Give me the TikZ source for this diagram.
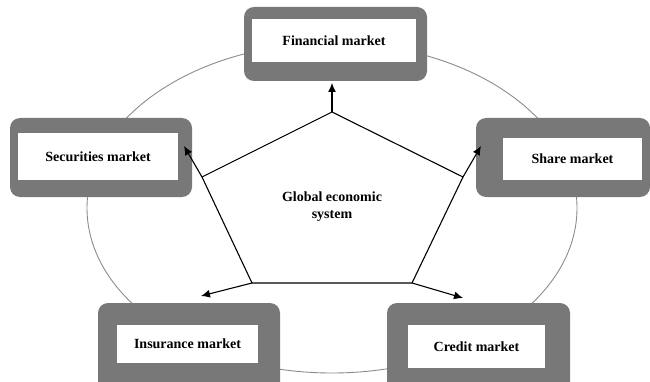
\documentclass[tikz,border=0pt]{standalone}
\usepackage{fontspec}
\setmainfont{Liberation Serif}
\usetikzlibrary{arrows.meta}
\definecolor{boxgray}{HTML}{787878}
\definecolor{arcgray}{HTML}{8C8C8C}
\tikzset{
  outerbox/.style={draw=none, fill=boxgray, rounded corners=10pt, inner sep=0pt},
  innerbox/.style={draw=none, fill=white, inner sep=0pt, font=\fontsize{14}{17}\selectfont\bfseries, align=center},
  conn/.style={draw=black, line width=1.1pt, line join=miter},
  arr/.style={conn, -{Latex[length=9pt,width=8pt]}},
  orbit/.style={draw=arcgray, line width=0.9pt},
  centerlabel/.style={font=\fontsize{14}{17}\selectfont\bfseries, align=center, inner sep=0pt}
}
\begin{document}
\begin{tikzpicture}[x=1pt,y=-1pt]
\useasboundingbox (0,0) rectangle (650,382);
% large orbit behind the boxes
\draw[orbit] (332,208) ellipse [x radius=245, y radius=165];
% outer gray frames
\node[outerbox, minimum width=183pt, minimum height=74pt] (finO) at (335.5,44) {};
\node[outerbox, minimum width=182pt, minimum height=79pt] (secO) at (101,157.5) {};
\node[outerbox, minimum width=174pt, minimum height=79pt] (shaO) at (563,157.5) {};
\node[outerbox, minimum width=182pt, minimum height=92pt] (insO) at (189,349) {};
\node[outerbox, minimum width=183pt, minimum height=92pt] (creO) at (478.5,349) {};
% inner white labels
\node[innerbox, minimum width=164pt, minimum height=43pt] (fin) at (334,40.5) {Financial market};
\node[innerbox, minimum width=160pt, minimum height=47pt] (sec) at (98,156.5) {Securities market};
\node[innerbox, minimum width=139pt, minimum height=42pt] (sha) at (572.5,159) {Share market};
\node[innerbox, minimum width=141pt, minimum height=38pt] (ins) at (187.5,344) {Insurance market};
\node[innerbox, minimum width=137pt, minimum height=43pt] (cre) at (476.5,346.5) {Credit market};
% pentagon vertices
\coordinate (pT) at (332,112);
\coordinate (pL) at (202,177);
\coordinate (pR) at (463,177);
\coordinate (pBL) at (252,283);
\coordinate (pBR) at (412,283);
% arrow ends
\coordinate (eT) at (332,83);
\coordinate (eL) at (184,146);
\coordinate (eR) at (481,146);
\coordinate (eBL) at (201,296);
\coordinate (eBR) at (463,298);
% pentagon
\draw[conn] (pT) -- (pR) -- (pBR) -- (pBL) -- (pL) -- cycle;
\node[centerlabel] (gl) at (332,207) {Global economic\\system};
% arrows
\draw[arr] (pT) -- (eT);
\draw[arr] (pL) -- (eL);
\draw[arr] (pR) -- (eR);
\draw[arr] (pBL) -- (eBL);
\draw[arr] (pBR) -- (eBR);
\end{tikzpicture}
\end{document}
